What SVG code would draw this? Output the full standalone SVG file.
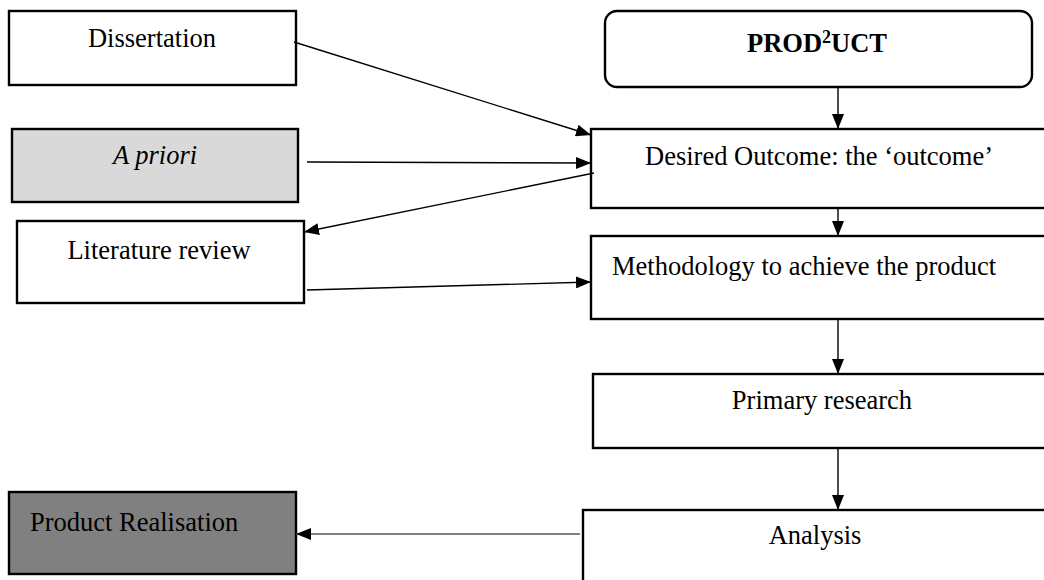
<svg xmlns="http://www.w3.org/2000/svg" width="1044" height="580" viewBox="0 0 1044 580">
  <style>
    .box { fill: #ffffff; stroke: #000000; stroke-width: 2.4; }
    .lbl { font-family: "Liberation Serif", "Times New Roman", serif; font-size: 26.5px; fill: #000000; }
    .con { stroke: #000000; stroke-width: 1.4; fill: none; marker-end: url(#arrow); }
  </style>
  <defs>
    <marker id="arrow" viewBox="0 0 15 12" refX="15" refY="6" markerWidth="15" markerHeight="12" markerUnits="userSpaceOnUse" orient="auto">
      <path d="M0,0 L15,6 L0,12 Z" fill="#000000"/>
    </marker>
  </defs>
  <rect width="1044" height="580" fill="#ffffff"/>

  <g id="dissertation">
    <rect class="box" x="9" y="11" width="287" height="74"/>
    <text class="lbl" x="152" y="47" text-anchor="middle">Dissertation</text>
  </g>

  <g id="product">
    <rect class="box" x="605" y="11" width="427" height="76" rx="12" ry="12"/>
    <text class="lbl" x="817" y="52" text-anchor="middle" font-weight="bold">PROD<tspan font-size="18" dy="-9">2</tspan><tspan dy="9">UCT</tspan></text>
  </g>

  <g id="a-priori">
    <rect class="box" x="12" y="129" width="286" height="73" style="fill:#d9d9d9"/>
    <text class="lbl" x="155" y="164" text-anchor="middle" font-style="italic">A priori</text>
  </g>

  <g id="literature-review">
    <rect class="box" x="17" y="221" width="287" height="82"/>
    <text class="lbl" x="159" y="259" text-anchor="middle">Literature review</text>
  </g>

  <g id="desired-outcome">
    <rect class="box" x="591" y="129" width="470" height="79"/>
    <text class="lbl" x="645" y="165">Desired Outcome: the ‘outcome’</text>
  </g>

  <g id="methodology">
    <rect class="box" x="591" y="236" width="470" height="83"/>
    <text class="lbl" x="612" y="275">Methodology to achieve the product</text>
  </g>

  <g id="primary-research">
    <rect class="box" x="593" y="374" width="470" height="74"/>
    <text class="lbl" x="822" y="409" text-anchor="middle">Primary research</text>
  </g>

  <g id="analysis">
    <rect class="box" x="583" y="510" width="480" height="90"/>
    <text class="lbl" x="815" y="544" text-anchor="middle">Analysis</text>
  </g>

  <g id="product-realisation">
    <rect class="box" x="9" y="492" width="287" height="82" style="fill:#808080"/>
    <text class="lbl" x="30" y="531">Product Realisation</text>
  </g>

  <g id="connectors">
    <line class="con" x1="294" y1="42" x2="591" y2="135"/>
    <line class="con" x1="307" y1="162" x2="591" y2="163"/>
    <line class="con" x1="594" y1="173" x2="304" y2="232"/>
    <line class="con" x1="307" y1="290" x2="591" y2="282"/>
    <line class="con" x1="838" y1="87" x2="838" y2="129"/>
    <line class="con" x1="838" y1="208" x2="838" y2="236"/>
    <line class="con" x1="838" y1="319" x2="838" y2="374"/>
    <line class="con" x1="838" y1="448" x2="838" y2="510"/>
    <line class="con" x1="580" y1="534" x2="296" y2="534" style="stroke:#555555"/>
  </g>
</svg>
